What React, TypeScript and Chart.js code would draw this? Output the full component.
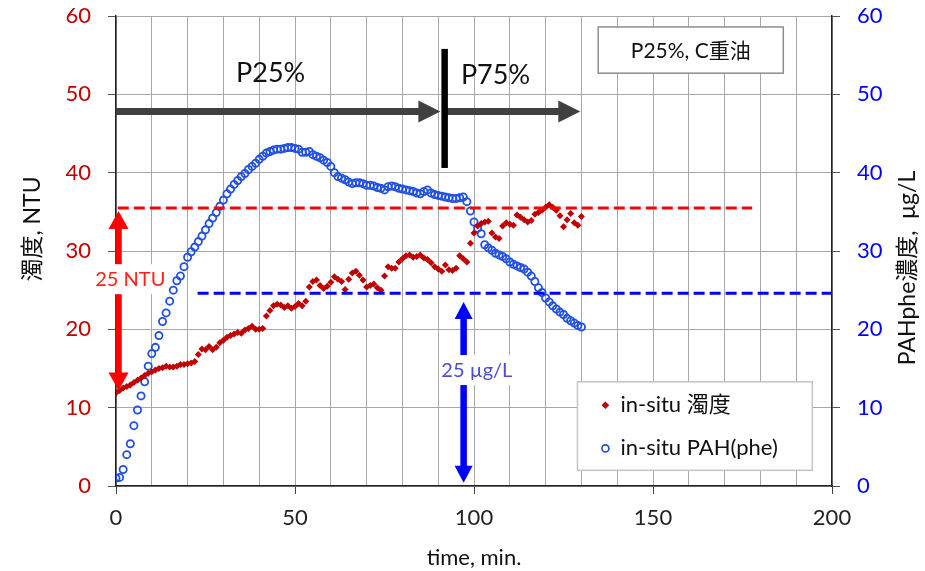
import React, { useEffect, useRef } from 'react';
import { Chart, registerables } from 'chart.js';

Chart.register(...registerables);

// ---- data ----
const TIME = [
  0, 1, 2, 3, 4, 5, 6, 7, 8, 9, 10, 11, 12, 13, 14, 15, 16, 17, 18, 19,
  20, 21, 22, 23, 24, 25, 26, 27, 28, 29, 30, 31, 32, 33, 34, 35, 36, 37, 38, 39,
  40, 41, 42, 43, 44, 45, 46, 47, 48, 49, 50, 51, 52, 53, 54, 55, 56, 57, 58, 59,
  60, 61, 62, 63, 64, 65, 66, 67, 68, 69, 70, 71, 72, 73, 74, 75, 76, 77, 78, 79,
  80, 81, 82, 83, 84, 85, 86, 87, 88, 89, 90, 91, 92, 93, 94, 95, 96, 97, 98, 99,
  100, 101, 102, 103, 104, 105, 106, 107, 108, 109, 110, 111, 112, 113, 114, 115, 116, 117, 118, 119,
  120, 121, 122, 123, 124, 125, 126, 127, 128, 129, 130,
];

const TURBIDITY = [
  11.9, 12.2, 12.5, 12.7, 12.9, 13.2, 13.5, 13.8, 14.1, 14.4, 14.6, 14.8, 15.0, 15.1, 15.3, 15.2, 15.2, 15.3, 15.5, 15.5,
  15.6, 15.7, 15.9, 16.8, 17.5, 17.4, 17.8, 17.4, 17.7, 18.3, 18.6, 19.0, 19.2, 19.4, 19.6, 19.5, 19.9, 20.1, 20.4, 20.0,
  20.0, 20.1, 21.7, 22.4, 23.0, 23.2, 23.1, 22.8, 23.0, 22.7, 22.9, 23.3, 23.0, 23.6, 25.4, 26.1, 26.3, 25.6, 25.2, 25.5,
  26.0, 26.7, 26.4, 26.1, 25.1, 26.4, 27.2, 27.4, 26.9, 26.3, 25.4, 25.6, 25.8, 25.3, 25.0, 26.8, 28.0, 27.8, 27.8, 28.6,
  29.0, 29.4, 29.5, 29.2, 29.3, 29.5, 29.1, 28.9, 28.5, 28.0, 27.7, 27.4, 28.2, 27.6, 27.5, 27.8, 29.4, 29.0, 28.6, 31.0,
  32.3, 33.2, 33.5, 33.7, 33.8, 32.3, 31.8, 31.6, 33.2, 33.6, 33.4, 33.3, 34.6, 34.3, 34.0, 33.7, 33.9, 34.7, 34.9, 35.2,
  35.6, 35.9, 35.6, 35.2, 34.5, 33.1, 34.0, 34.8, 33.6, 33.3, 34.4,
];

const PAH_PHE = [
  1.0, 1.1, 2.1, 4.0, 5.4, 7.7, 9.7, 11.5, 13.3, 15.3, 16.9, 17.7, 19.2, 21.0, 22.1, 23.6, 25.0, 26.2, 26.8, 28.0,
  29.2, 29.9, 30.5, 31.2, 31.9, 32.7, 33.5, 34.2, 34.9, 35.7, 36.5, 37.3, 37.9, 38.5, 39.0, 39.5, 39.9, 40.4, 40.8, 41.2,
  41.7, 42.1, 42.5, 42.7, 42.9, 43.0, 43.0, 43.1, 43.2, 43.2, 43.1, 43.0, 42.6, 42.6, 42.7, 42.3, 42.1, 41.9, 41.6, 41.3,
  40.8, 40.0, 39.5, 39.3, 39.1, 38.8, 38.6, 38.7, 38.7, 38.6, 38.4, 38.4, 38.3, 38.1, 38.0, 37.8, 38.2, 38.3, 38.2, 38.0,
  37.9, 37.8, 37.7, 37.6, 37.4, 37.3, 37.6, 37.8, 37.4, 37.2, 37.1, 37.0, 36.9, 36.8, 36.7, 36.7, 36.8, 36.9, 36.3, 35.1,
  33.7, 32.9, 32.2, 30.8, 30.4, 30.1, 29.7, 29.5, 29.3, 29.0, 28.6, 28.3, 28.1, 27.9, 27.7, 27.3, 26.8, 26.1, 25.3, 24.7,
  24.0, 23.5, 23.0, 22.6, 22.2, 21.9, 21.4, 21.1, 20.8, 20.5, 20.3,
];

const X_LABELED_TICKS = [0, 50, 100, 150, 200];
const SERIES_NAMES = ['in-situ 濁度', 'in-situ PAH(phe)'];
const TURBIDITY_LIMIT = 35.5; // NTU, red dashed line
const PAH_LIMIT = 24.6; // µg/L, blue dashed line

const FONT = 'Lato, "Noto Sans CJK JP", "Noto Sans", sans-serif';
const RED = '#c00000';
const BLUE = '#2050e0';

function arrowHead(ctx: CanvasRenderingContext2D, tx: number, ty: number, ux: number, uy: number, len: number, w: number) {
  const bx = tx - ux * len;
  const by = ty - uy * len;
  const px = -uy, py = ux;
  ctx.beginPath();
  ctx.moveTo(tx, ty);
  ctx.lineTo(bx + px * w / 2, by + py * w / 2);
  ctx.lineTo(bx - px * w / 2, by - py * w / 2);
  ctx.closePath();
  ctx.fill();
}

function drawArrow(
  ctx: CanvasRenderingContext2D, x1: number, y1: number, x2: number, y2: number,
  shaft: number, headLen: number, headW: number, color: string, double: boolean,
) {
  const dx = x2 - x1, dy = y2 - y1;
  const L = Math.hypot(dx, dy);
  const ux = dx / L, uy = dy / L;
  ctx.save();
  ctx.strokeStyle = color;
  ctx.fillStyle = color;
  ctx.lineWidth = shaft;
  ctx.lineCap = 'butt';
  const sx = double ? x1 + ux * (headLen - 1) : x1;
  const sy = double ? y1 + uy * (headLen - 1) : y1;
  ctx.beginPath();
  ctx.moveTo(sx, sy);
  ctx.lineTo(x2 - ux * (headLen - 1), y2 - uy * (headLen - 1));
  ctx.stroke();
  arrowHead(ctx, x2, y2, ux, uy, headLen, headW);
  if (double) arrowHead(ctx, x1, y1, -ux, -uy, headLen, headW);
  ctx.restore();
}

function labelOnWhite(ctx: CanvasRenderingContext2D, text: string, cx: number, cy: number, font: string, color: string, padX: number, h: number) {
  ctx.save();
  ctx.font = font;
  const w = ctx.measureText(text).width;
  ctx.fillStyle = '#ffffff';
  ctx.fillRect(cx - w / 2 - padX, cy - h / 2, w + padX * 2, h);
  ctx.fillStyle = color;
  ctx.textAlign = 'center';
  ctx.textBaseline = 'middle';
  ctx.fillText(text, cx, cy);
  ctx.restore();
}

const annotationPlugin = {
  id: 'annotations',
  afterDatasetsDraw(chart: any) {
    const { ctx, chartArea, scales } = chart;
    const X = (v: number) => scales.x.getPixelForValue(v);
    const YL = (v: number) => scales.yL.getPixelForValue(v);
    const YR = (v: number) => scales.yR.getPixelForValue(v);

    // phase arrows
    drawArrow(ctx, X(0), YL(47.8), X(90.6), YL(47.8), 7, 22, 22, '#404040', false);
    drawArrow(ctx, X(91.8), YL(47.8), X(129.7), YL(47.8), 7, 22, 22, '#404040', false);
    ctx.save();
    ctx.strokeStyle = '#000';
    ctx.lineWidth = 6.5;
    ctx.beginPath();
    ctx.moveTo(X(91.8), YL(55.8));
    ctx.lineTo(X(91.8), YL(40.6));
    ctx.stroke();
    ctx.font = `27px ${FONT}`;
    ctx.fillStyle = '#111';
    ctx.textAlign = 'center';
    ctx.textBaseline = 'middle';
    ctx.fillText('P25%', X(43.2), YL(52.7));
    ctx.fillText('P75%', X(106), YL(52.4));
    ctx.restore();

    // 25 NTU double arrow
    drawArrow(ctx, X(0.7), YL(TURBIDITY_LIMIT - 0.4), X(0.7), YL(12.2), 6.5, 18, 20, '#ff0000', true);
    labelOnWhite(ctx, '25 NTU', X(4.0), YL(26.4), `20px ${FONT}`, '#ff2020', 1, 30);

    // 25 µg/L double arrow
    drawArrow(ctx, X(97.1), YR(PAH_LIMIT - 1.1), X(97.1), YR(0.4), 6.5, 17, 18, '#0000ff', true);
    labelOnWhite(ctx, '25 µg/L', X(100.8), YR(14.8), `20px ${FONT}`, '#4b4bd6', 1, 30);

    // condition box
    ctx.save();
    const bx1 = X(134.7), bx2 = X(186.4), by1 = YL(58.6), by2 = YL(52.7);
    ctx.fillStyle = '#fff';
    ctx.fillRect(bx1, by1, bx2 - bx1, by2 - by1);
    ctx.strokeStyle = '#8c8c8c';
    ctx.lineWidth = 1.5;
    ctx.strokeRect(bx1, by1, bx2 - bx1, by2 - by1);
    ctx.fillStyle = '#111';
    ctx.font = `21px ${FONT}`;
    ctx.textAlign = 'center';
    ctx.textBaseline = 'middle';
    ctx.fillText('P25%, C重油', (bx1 + bx2) / 2, (by1 + by2) / 2 + 1);
    ctx.restore();

    // legend box
    ctx.save();
    const lx1 = X(128.9), lx2 = X(194.5), ly1 = YL(13.3), ly2 = YL(2.0);
    ctx.fillStyle = '#fff';
    ctx.fillRect(lx1, ly1, lx2 - lx1, ly2 - ly1);
    ctx.strokeStyle = '#c4c4c4';
    ctx.lineWidth = 1.5;
    ctx.strokeRect(lx1, ly1, lx2 - lx1, ly2 - ly1);
    const mx = X(136.7);
    const tx = X(140.9);
    const r1 = YL(10.3), r2 = YL(4.8);
    ctx.fillStyle = RED;
    ctx.beginPath();
    ctx.moveTo(mx, r1 - 3.8); ctx.lineTo(mx + 3.8, r1); ctx.lineTo(mx, r1 + 3.8); ctx.lineTo(mx - 3.8, r1);
    ctx.closePath();
    ctx.fill();
    ctx.strokeStyle = BLUE;
    ctx.lineWidth = 1.7;
    ctx.beginPath();
    ctx.arc(mx, r2, 3.5, 0, Math.PI * 2);
    ctx.stroke();
    ctx.fillStyle = '#111';
    ctx.font = `22px ${FONT}`;
    ctx.textAlign = 'left';
    ctx.textBaseline = 'middle';
    ctx.fillText(SERIES_NAMES[0], tx, r1);
    ctx.fillText(SERIES_NAMES[1], tx, r2);
    ctx.restore();

    // axis titles
    ctx.save();
    ctx.fillStyle = '#111';
    ctx.font = `23px ${FONT}`;
    ctx.textAlign = 'center';
    ctx.textBaseline = 'middle';
    ctx.translate(33, chartArea.top + 213);
    ctx.rotate(-Math.PI / 2);
    ctx.fillText('濁度, NTU', 0, 0);
    ctx.restore();

    ctx.save();
    ctx.fillStyle = '#111';
    ctx.font = `23px ${FONT}`;
    ctx.textAlign = 'center';
    ctx.textBaseline = 'middle';
    ctx.translate(chartArea.right + 76, chartArea.top + 252);
    ctx.rotate(-Math.PI / 2);
    ctx.fillText('PAHphe濃度,  μg/L', 0, 0);
    ctx.restore();

    ctx.save();
    ctx.fillStyle = '#111';
    ctx.font = `22px ${FONT}`;
    ctx.textAlign = 'center';
    ctx.textBaseline = 'middle';
    ctx.fillText('time, min.', (chartArea.left + chartArea.right) / 2, chartArea.bottom + 72);
    ctx.restore();
  },
};

export default function App() {
  const ref = useRef<HTMLCanvasElement>(null);

  useEffect(() => {
    document.body.style.margin = '0';
    const turb = TIME.map((t, i) => ({ x: t, y: TURBIDITY[i] }));
    const pah = TIME.map((t, i) => ({ x: t, y: PAH_PHE[i] }));

    const chart = new Chart(ref.current as HTMLCanvasElement, {
      type: 'scatter',
      data: {
        datasets: [
          {
            type: 'line',
            label: 'limit NTU',
            data: [{ x: 0.5, y: TURBIDITY_LIMIT }, { x: 177.7, y: TURBIDITY_LIMIT }],
            yAxisID: 'yL',
            borderColor: '#ff0000',
            borderWidth: 3,
            borderDash: [11, 5],
            pointRadius: 0,
            fill: false,
          } as any,
          {
            type: 'line',
            label: 'limit PAH',
            data: [{ x: 22.8, y: PAH_LIMIT }, { x: 200, y: PAH_LIMIT }],
            yAxisID: 'yR',
            borderColor: '#0000ff',
            borderWidth: 3,
            borderDash: [11, 5],
            pointRadius: 0,
            fill: false,
          } as any,
          {
            label: SERIES_NAMES[0],
            data: turb,
            yAxisID: 'yL',
            pointStyle: 'rectRot',
            pointRadius: 3.5,
            pointBackgroundColor: RED,
            pointBorderColor: RED,
            pointBorderWidth: 0,
            showLine: false,
          },
          {
            label: SERIES_NAMES[1],
            data: pah,
            yAxisID: 'yR',
            pointStyle: 'circle',
            pointRadius: 3.6,
            pointBackgroundColor: 'rgba(255,255,255,0)',
            pointBorderColor: BLUE,
            pointBorderWidth: 1.8,
            showLine: false,
          },
        ],
      },
      options: {
        responsive: false,
        animation: false,
        layout: { padding: { top: 16, left: 0, right: 0, bottom: 0 } },
        plugins: { legend: { display: false }, tooltip: { enabled: false }, title: { display: false } },
        scales: {
          x: {
            type: 'linear',
            min: 0,
            max: 200,
            ticks: {
              stepSize: 10,
              autoSkip: false,
              maxRotation: 0,
              padding: 11,
              color: '#222',
              font: { family: FONT, size: 22 },
              callback: (v: any) => (X_LABELED_TICKS.includes(Number(v)) ? String(v) : ''),
            },
            grid: {
              color: '#a8a8a8',
              lineWidth: 1,
              tickLength: 8,
              tickColor: (c: any) => (c.tick && X_LABELED_TICKS.includes(c.tick.value) ? '#444' : 'rgba(0,0,0,0)'),
            },
            border: { color: '#222', width: 1.5 },
            afterFit: (s: any) => { s.height = 85; s.paddingLeft = 0; s.paddingRight = 0; },
          },
          yL: {
            type: 'linear',
            position: 'left',
            min: 0,
            max: 60,
            ticks: { stepSize: 10, padding: 17, color: RED, font: { family: FONT, size: 22 } },
            grid: { color: '#a8a8a8', lineWidth: 1, tickLength: 8, tickColor: '#555' },
            border: { color: '#222', width: 1.5 },
            afterFit: (s: any) => { s.width = 116; s.paddingTop = 0; s.paddingBottom = 0; },
          },
          yR: {
            type: 'linear',
            position: 'right',
            min: 0,
            max: 60,
            ticks: { stepSize: 10, padding: 17, color: '#0000ff', font: { family: FONT, size: 22 } },
            grid: { drawOnChartArea: false, tickLength: 8, tickColor: '#555' },
            border: { color: '#222', width: 1.5 },
            afterFit: (s: any) => { s.width = 93; s.paddingTop = 0; s.paddingBottom = 0; },
          },
        },
      },
      plugins: [annotationPlugin],
    } as any);
    return () => chart.destroy();
  }, []);

  return (
    <div style={{ width: 925, height: 571 }}>
      <canvas ref={ref} width={925} height={571} style={{ display: 'block' }} />
    </div>
  );
}
